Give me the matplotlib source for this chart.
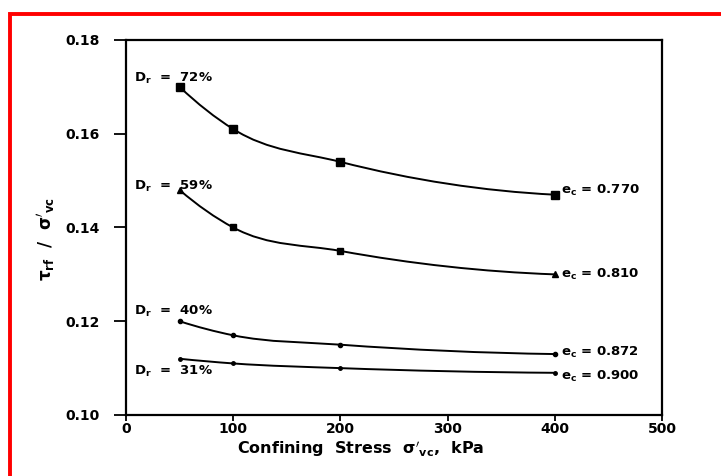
import numpy as np
import matplotlib.pyplot as plt
from matplotlib.path import Path
from matplotlib.patches import PathPatch, Rectangle

# confining stress (kPa) and stress ratio for each relative density
stress = [50, 100, 200, 400]
ratio_72 = [0.170, 0.161, 0.154, 0.147]
ratio_59 = [0.148, 0.140, 0.135, 0.130]
ratio_40 = [0.120, 0.117, 0.115, 0.113]
ratio_31 = [0.112, 0.111, 0.110, 0.109]

dr_labels = ["72%", "59%", "40%", "31%"]
ec_labels = ["0.770", "0.810", "0.872", "0.900"]

x_ticks = [0, 100, 200, 300, 400, 500]
y_ticks = [0.10, 0.12, 0.14, 0.16, 0.18]

plt.rcParams['font.family'] = 'DejaVu Sans'
plt.rcParams['font.weight'] = 'bold'
plt.rcParams['mathtext.default'] = 'bf'


def smooth_path(x, y):
    # cubic segments through the points, slopes from local parabolas
    x = np.asarray(x, float)
    y = np.asarray(y, float)
    h = np.diff(x)
    d = np.diff(y) / h
    m = np.zeros_like(y)
    m[0] = ((2 * h[0] + h[1]) * d[0] - h[0] * d[1]) / (h[0] + h[1])
    m[-1] = ((2 * h[-1] + h[-2]) * d[-1] - h[-1] * d[-2]) / (h[-2] + h[-1])
    for i in range(1, len(x) - 1):
        m[i] = (h[i] * d[i - 1] + h[i - 1] * d[i]) / (h[i - 1] + h[i])
    verts = [(x[0], y[0])]
    codes = [Path.MOVETO]
    for i in range(len(x) - 1):
        verts += [(x[i] + h[i] / 3, y[i] + m[i] * h[i] / 3),
                  (x[i + 1] - h[i] / 3, y[i + 1] - m[i + 1] * h[i] / 3),
                  (x[i + 1], y[i + 1])]
        codes += [Path.CURVE4] * 3
    return Path(verts, codes)


fig = plt.figure(figsize=(7.21, 4.76), dpi=100)
ax = fig.add_axes([126 / 721, 1 - 415 / 476, 536 / 721, 375 / 476])

series = [ratio_72, ratio_59, ratio_40, ratio_31]
for vals in series:
    ax.add_patch(PathPatch(smooth_path(stress, vals), fill=False,
                           lw=1.4, color='black'))

# markers
ax.plot(stress, ratio_72, ls='none', marker='s', ms=5.5, color='black')
ax.plot([stress[0], stress[3]], [ratio_59[0], ratio_59[3]], ls='none',
        marker='^', ms=5, color='black')
ax.plot(stress[1:3], ratio_59[1:3], ls='none', marker='s', ms=4, color='black')
ax.plot(stress, ratio_40, ls='none', marker='o', ms=3, color='black')
ax.plot(stress, ratio_31, ls='none', marker='o', ms=2.5, color='black')

# relative density labels on the left
dr_offsets = [0.0019, 0.0008, 0.0021, -0.0027]
for vals, lab, off in zip(series, dr_labels, dr_offsets):
    ax.text(7, vals[0] + off, r"D$_r$  =  " + lab, fontsize=9.5,
            fontweight='bold', va='center', ha='left')

# void ratio labels on the right
ec_offsets = [0.0008, 0.0, 0.0004, -0.0008]
for vals, lab, off in zip(series, ec_labels, ec_offsets):
    ax.text(406, vals[3] + off, r"e$_c$ = " + lab, fontsize=9.5,
            fontweight='bold', va='center', ha='left')

ax.set_xlim(0, 500)
ax.set_ylim(0.10, 0.18)
ax.set_xticks(x_ticks)
ax.set_yticks(y_ticks)
ax.set_xticklabels([str(v) for v in x_ticks], fontsize=10, fontweight='bold')
ax.set_yticklabels(["%.2f" % v for v in y_ticks], fontsize=10, fontweight='bold')
ax.tick_params(axis='y', direction='out', length=9, width=1.3, pad=10)
ax.tick_params(axis='x', direction='out', length=4, width=1.3, pad=1)
for sp in ax.spines.values():
    sp.set_linewidth(1.6)

ax.set_xlabel(r"Confining  Stress  $\sigma'_{vc}$,  kPa", fontsize=11.5,
              fontweight='bold', labelpad=0)
ax.xaxis.set_label_coords(0.437, -0.062)
ax.set_ylabel(r"$\tau_{rf}$  /  $\sigma'_{vc}$", fontsize=12,
              fontweight='bold', labelpad=6)
ax.yaxis.set_label_coords(-0.128, 0.47)

# red frame around the figure
fig.add_artist(Rectangle((9.5 / 721, -0.2), 1.2, 1.2 - 13.5 / 476,
                         transform=fig.transFigure, fill=False,
                         edgecolor='red', lw=2.8, clip_on=False))

fig.savefig("out.png", dpi=100)
